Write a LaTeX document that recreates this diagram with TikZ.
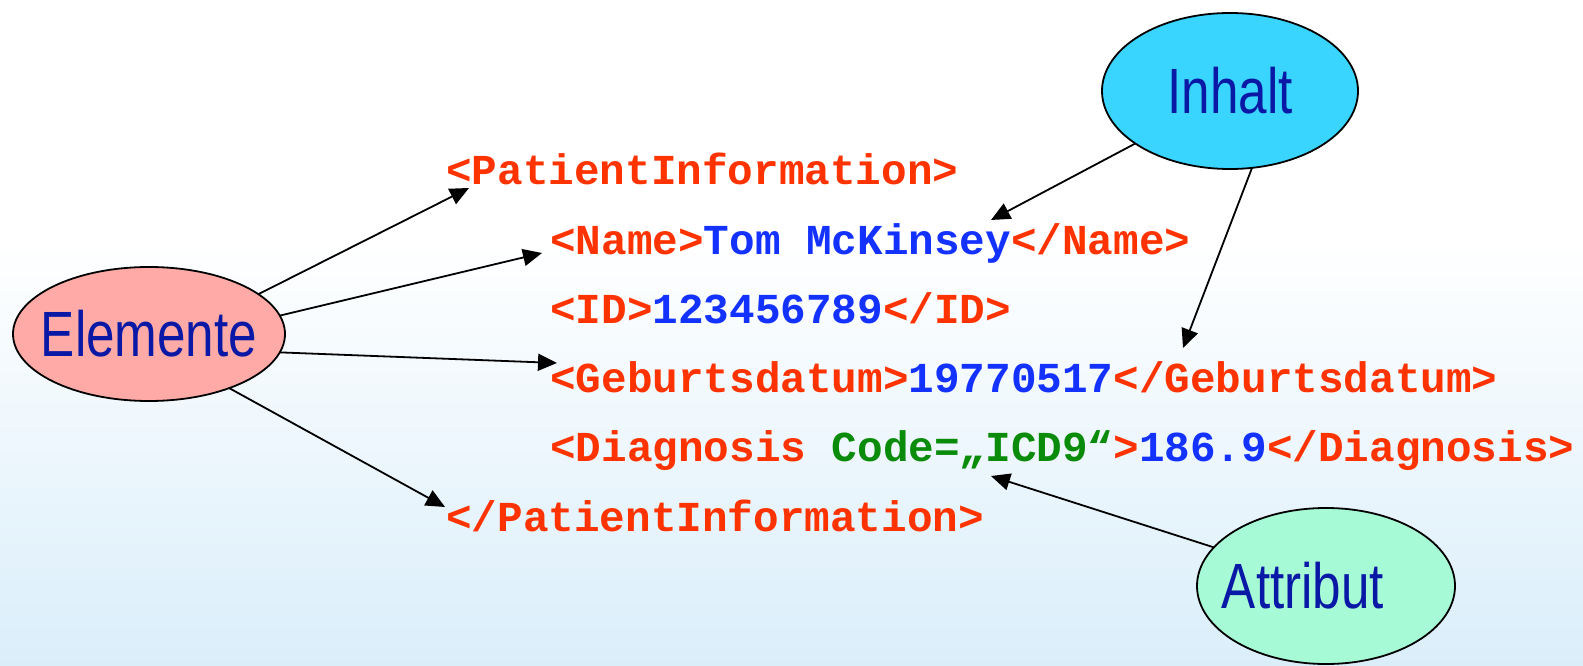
\documentclass[tikz,border=0pt]{standalone}
\usepackage{fontspec}
\usetikzlibrary{arrows.meta,shapes.geometric}
\newfontfamily\codefont{Liberation Mono}
\newfontfamily\tagfont{Liberation Sans}
\definecolor{tagred}{RGB}{255,51,0}
\definecolor{valblue}{RGB}{20,50,255}
\definecolor{attrgreen}{RGB}{10,140,10}
\definecolor{labelblue}{RGB}{10,25,165}
\definecolor{pinkfill}{RGB}{255,170,166}
\definecolor{cyanfill}{RGB}{58,213,255}
\definecolor{mintfill}{RGB}{166,250,214}
\definecolor{bgblue}{RGB}{218,238,250}
\tikzset{
  concept/.style={ellipse, draw=black, line width=1.8pt, inner sep=0pt, outer sep=0pt,
    text=labelblue, font=\tagfont\fontsize{64}{70}\selectfont},
  codeline/.style={anchor=base west, inner sep=0pt,
    font=\codefont\bfseries\fontsize{42.67}{50}\selectfont, text=tagred},
  link/.style={line width=1.8pt, -{Triangle[length=19pt,width=17pt]}},
}
% condensed label, centred on a zero-width box so it does not size the ellipse
\newcommand{\narrowlabel}[2][0pt]{\makebox[0pt]{\scalebox{0.8}[1]{#2}\hspace{#1}}}
\begin{document}
\begin{tikzpicture}[x=1pt,y=-1pt]
\useasboundingbox (0,0) rectangle (1583,666);
% background
\fill[white] (0,0) rectangle (1583,240);
\shade[top color=white, bottom color=bgblue] (0,239) rectangle (1583,666);

% concept ellipses
\node[concept, fill=pinkfill, minimum width=272pt, minimum height=134pt] (elem) at (149,334) {\narrowlabel{Elemente}};
\node[concept, fill=cyanfill, minimum width=256pt, minimum height=156pt] (inh) at (1230,91) {\narrowlabel{Inhalt}};
\node[concept, fill=mintfill, minimum width=258pt, minimum height=156pt] (attr) at (1326,586) {\narrowlabel[46pt]{Attribut}};

% XML lines
\node[codeline] (l1) at (446,185) {<PatientInformation>};
\node[codeline] (l2) at (550,254) {<Name>\textcolor{valblue}{Tom McKinsey}</Name>};
\node[codeline] (l3) at (550,323) {<ID>\textcolor{valblue}{123456789}</ID>};
\node[codeline] (l4) at (550,392) {<Geburtsdatum>\textcolor{valblue}{19770517}</Geburtsdatum>};
\node[codeline] (l5) at (550,461) {<Diagnosis \textcolor{attrgreen}{Code=„ICD9“}>\textcolor{valblue}{186.9}</Diagnosis>};
\node[codeline] (l6) at (446,531) {</PatientInformation>};

% arrow targets
\coordinate (t1) at (469,188);
\coordinate (t2) at (542,253);
\coordinate (t3) at (557,363);
\coordinate (t4) at (445,507);
\coordinate (t5) at (991,220);
\coordinate (t6) at (1183,348);
\coordinate (t7) at (991,476);

% connectors
\draw[link] (elem.20) -- (t1);
\draw[link] (elem.8) -- (t2);
\draw[link] (elem.352) -- (t3);
\draw[link] (elem.326) -- (t4);
\draw[link] (inh.209) -- (t5);
\draw[link] (inh.286) -- (t6);
\draw[link] (attr.161) -- (t7);
\end{tikzpicture}
\end{document}
